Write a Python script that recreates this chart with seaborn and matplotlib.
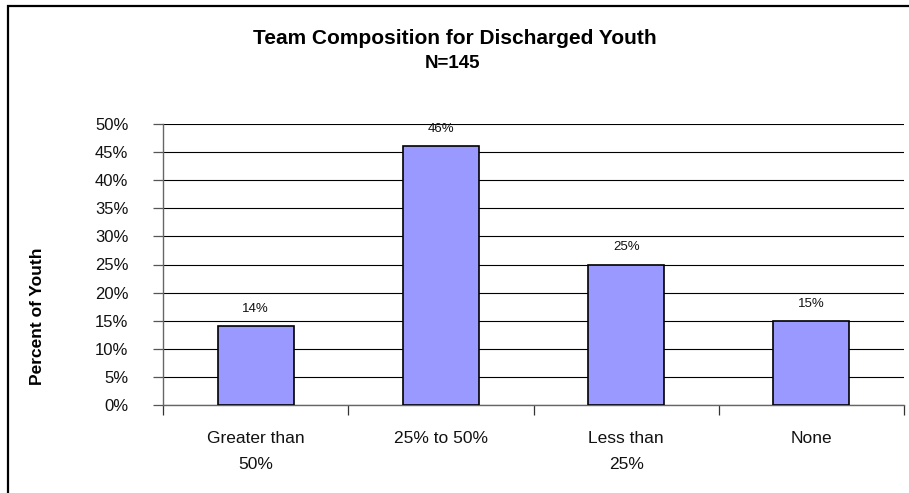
import matplotlib
matplotlib.use("Agg")
import matplotlib.pyplot as plt
import matplotlib.patches as mpatches
import seaborn as sns
import pandas as pd

# Team composition shares for discharged youth (N=145)
categories = ["Greater than\n50%", "25% to 50%", "Less than\n25%", "None"]
percents = [14, 46, 25, 15]
y_ticks = [0, 5, 10, 15, 20, 25, 30, 35, 40, 45, 50]
y_tick_labels = [f"{v}%" for v in y_ticks]

df = pd.DataFrame({"category": categories, "percent": percents})

sns.set_theme(style="white")
plt.rcParams["font.family"] = ["Liberation Sans", "DejaVu Sans"]
plt.rcParams["text.color"] = "black"

fig = plt.figure(figsize=(9.09, 4.93), dpi=100)
W, H = 909, 493
ax = fig.add_axes([163 / W, 1 - 405 / H, (904 - 163) / W, (405 - 124) / H])

sns.barplot(data=df, x="category", y="percent", color="#9999FF",
            edgecolor="black", linewidth=1.2, width=0.41, saturation=1,
            ax=ax, zorder=3)

ax.set_ylim(0, 50)
ax.set_xlim(-0.5, 3.5)
ax.set_yticks(y_ticks)
ax.set_yticklabels(y_tick_labels, fontsize=12, color="#111111")
ax.yaxis.grid(True, color="black", linewidth=0.8)
ax.set_axisbelow(True)

# category separators as small tick marks below the axis
ax.set_xticks([-0.5, 0.5, 1.5, 2.5, 3.5], minor=True)
ax.tick_params(axis="x", which="minor", bottom=True, length=7, width=0.9,
               color="#333333", direction="out")
ax.tick_params(axis="x", which="major", bottom=False, length=0, pad=19,
               labelsize=12.5, labelcolor="#111111")
ax.tick_params(axis="y", left=True, length=7, width=0.9, color="#555555",
               direction="out", pad=18)
for lbl in ax.get_xticklabels():
    lbl.set_linespacing(1.85)

for side in ["top", "right"]:
    ax.spines[side].set_visible(False)
ax.spines["left"].set_color("#666666")
ax.spines["bottom"].set_color("#666666")
ax.spines["left"].set_linewidth(1.0)
ax.spines["bottom"].set_linewidth(1.0)

ax.set_xlabel("")
ax.set_ylabel("")

for container in ax.containers:
    ax.bar_label(container, labels=[f"{v}%" for v in percents],
                 padding=8, fontsize=9.5, color="#111111")

fig.text(38 / W, 1 - 316 / H, "Percent of Youth", rotation=90,
         ha="center", va="center", fontsize=12.5, fontweight="bold",
         color="black")

fig.text(455 / W, 1 - 38 / H, "Team Composition for Discharged Youth",
         ha="center", va="center", fontsize=15, fontweight="bold",
         color="black")
fig.text(453 / W, 1 - 64 / H, "N=145",
         ha="center", va="center", fontsize=13.5, fontweight="bold",
         color="black")

# chart-area frame
fig.add_artist(mpatches.Rectangle((8 / W, -0.05), 1.2, 1 - 6 / H + 0.05,
                                  transform=fig.transFigure, fill=False,
                                  edgecolor="black", linewidth=1.6))

fig.savefig("out.png", dpi=100)
